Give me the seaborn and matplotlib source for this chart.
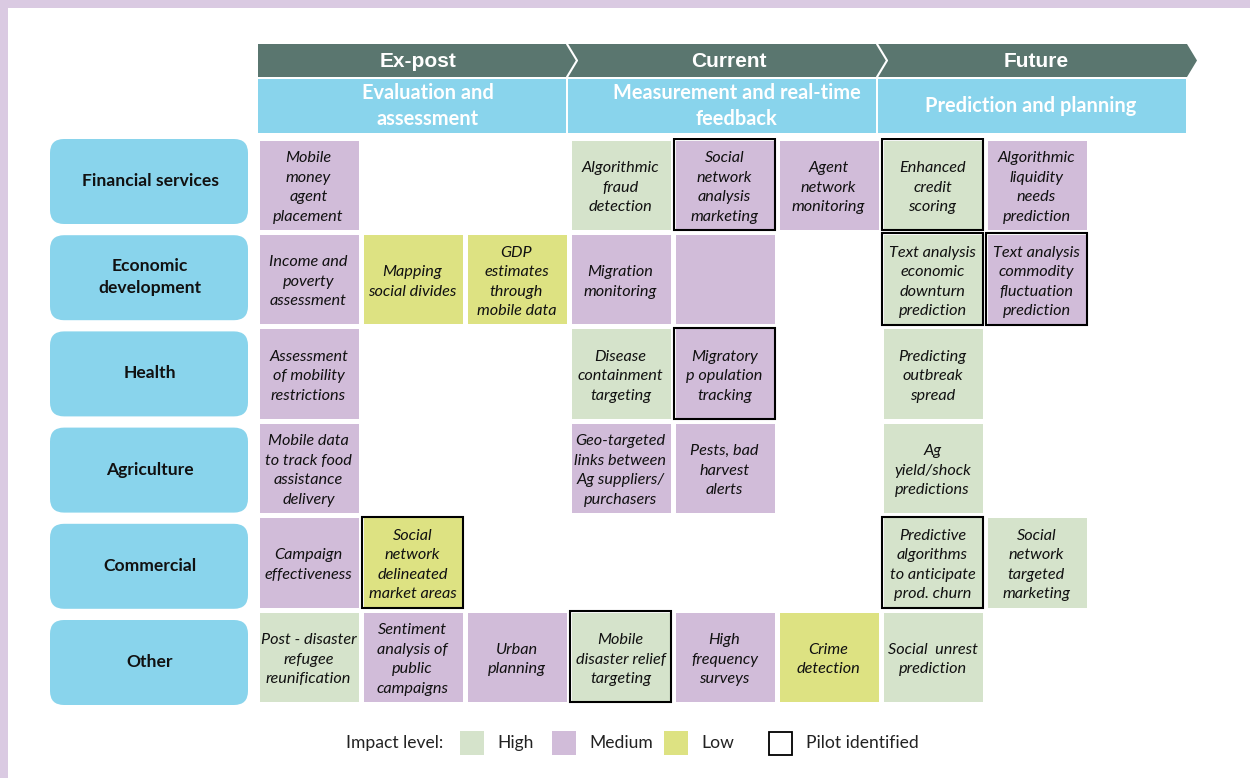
import numpy as np
import pandas as pd
import matplotlib
matplotlib.use("Agg")
import matplotlib.pyplot as plt
from matplotlib.colors import ListedColormap
from matplotlib.patches import Rectangle, FancyBboxPatch, Polygon
import seaborn as sns

# dati della matrice
sectors = ["Financial services", "Economic\ndevelopment", "Health",
           "Agriculture", "Commercial", "Other"]
periods = ["Ex-post", "Current", "Future"]
stages = ["Evaluation and\nassessment", "Measurement and real-time\nfeedback",
          "Prediction and planning"]
impact_levels = ["High", "Medium", "Low"]

cell_labels = [
    ["Mobile\nmoney\nagent\nplacement", None, None, "Algorithmic\nfraud\ndetection",
     "Social\nnetwork\nanalysis\nmarketing", "Agent\nnetwork\nmonitoring",
     "Enhanced\ncredit\nscoring", "Algorithmic\nliquidity\nneeds\nprediction"],
    ["Income and\npoverty\nassessment", "Mapping\nsocial divides",
     "GDP\nestimates\nthrough\nmobile data", "Migration\nmonitoring", "", None,
     "Text analysis\neconomic\ndownturn\nprediction",
     "Text analysis\ncommodity\nfluctuation\nprediction"],
    ["Assessment\nof mobility\nrestrictions", None, None, "Disease\ncontainment\ntargeting",
     "Migratory\np opulation\ntracking", None, "Predicting\noutbreak\nspread", None],
    ["Mobile data\nto track food\nassistance\ndelivery", None, None,
     "Geo-targeted\nlinks between\nAg suppliers/\npurchasers", "Pests, bad\nharvest\nalerts",
     None, "Ag\nyield/shock\npredictions", None],
    ["Campaign\neffectiveness", "Social\nnetwork\ndelineated\nmarket areas", None, None,
     None, None, "Predictive\nalgorithms\nto anticipate\nprod. churn",
     "Social\nnetwork\ntargeted\nmarketing"],
    ["Post - disaster\nrefugee\nreunification", "Sentiment\nanalysis of\npublic\ncampaigns",
     "Urban\nplanning", "Mobile\ndisaster relief\ntargeting", "High\nfrequency\nsurveys",
     "Crime\ndetection", "Social  unrest\nprediction", None],
]
cell_impact = [
    ["Medium", None, None, "High", "Medium", "Medium", "High", "Medium"],
    ["Medium", "Low", "Low", "Medium", "Medium", None, "High", "Medium"],
    ["Medium", None, None, "High", "Medium", None, "High", None],
    ["Medium", None, None, "Medium", "Medium", None, "High", None],
    ["Medium", "Low", None, None, None, None, "High", "High"],
    ["High", "Medium", "Medium", "High", "Medium", "Low", "High", None],
]
pilots = [(0, 4), (0, 6), (1, 6), (1, 7), (2, 4), (4, 1), (4, 6), (5, 3)]

# colori
col_high = "#D5E3CB"
col_med = "#D1BCD9"
col_low = "#DDE282"
col_dark = "#5A766F"
col_blue = "#89D4EC"
col_frame = "#DACAE2"

sns.set_style("white")
plt.rcParams["font.family"] = ["Lato", "DejaVu Sans"]

W, H = 1250, 778
fig = plt.figure(figsize=(12.5, 7.78), dpi=100)

# asse di sfondo in pixel
ax = fig.add_axes([0, 0, 1, 1])
ax.set_xlim(0, W)
ax.set_ylim(H, 0)
ax.axis("off")

# cornice lilla
ax.add_patch(Rectangle((0, 0), 8, H, color=col_frame, lw=0))
ax.add_patch(Rectangle((0, 0), W, 8, color=col_frame, lw=0))

# banda scura con freccia
ax.add_patch(Polygon([(258, 44), (1187, 44), (1197, 60.5), (1187, 77), (258, 77)],
                     closed=True, color=col_dark, lw=0))
for xs in [567, 877]:
    ax.plot([xs, xs + 10, xs], [44, 60.5, 77], color="white", lw=1.5)
period_x = [418, 729, 1036]
for px, p in zip(period_x, periods):
    ax.text(px, 61, p, ha="center", va="center", color="white", fontsize=15,
            fontweight="bold", family="Liberation Sans")

# sottotitoli azzurri
stage_x = [(258, 566), (568, 876), (878, 1186)]
stage_tx = [428, 737, 1031]
for (x0, x1), tx, s in zip(stage_x, stage_tx, stages):
    ax.add_patch(Rectangle((x0, 79), x1 - x0, 54, color=col_blue, lw=0))
    ax.text(tx, 106, s, ha="center", va="center", color="white",
            fontsize=14.4, fontweight="bold", linespacing=1.4)

# etichette dei settori
for i, s in enumerate(sectors):
    top = 139 + 96.2 * i
    ax.add_patch(FancyBboxPatch((50, top), 198, 85,
                                boxstyle="round,pad=0,rounding_size=14",
                                color=col_blue, lw=0))
    ax.text(150, top + 42, s, ha="center", va="center", fontsize=12.6,
            fontweight="bold", color="#111111", linespacing=1.5)

# legenda
ax.text(346, 743, "Impact level:", ha="left", va="center", fontsize=12.6, color="#222222")
leg_x = [460, 552, 664]
for lx, lev, c in zip(leg_x, impact_levels, [col_high, col_med, col_low]):
    ax.add_patch(Rectangle((lx, 731), 24, 24, color=c, lw=0))
    ax.text(lx + 37, 743, lev, ha="left", va="center", fontsize=12.6, color="#222222")
ax.add_patch(Rectangle((769, 732), 23, 23, facecolor="white", edgecolor="black", lw=1.3))
ax.text(806, 743, "Pilot identified", ha="left", va="center", fontsize=12.6, color="#222222")

# matrice delle celle con heatmap
codes = {"High": 0, "Medium": 1, "Low": 2}
df = pd.DataFrame([[codes[v] if v is not None else np.nan for v in row] for row in cell_impact])
labels = np.array([[t if t is not None else "" for t in row] for row in cell_labels])

left, right = 256.5, 256.5 + 8 * 104
top, bottom = 137.5, 137.5 + 6 * 94.4
hax = fig.add_axes([left / W, 1 - bottom / H, (right - left) / W, (bottom - top) / H])
sns.heatmap(df, mask=df.isna(), cmap=ListedColormap([col_high, col_med, col_low]),
            vmin=-0.5, vmax=2.5, cbar=False, annot=labels, fmt="",
            annot_kws={"fontsize": 11.7, "style": "italic", "color": "#111111",
                       "linespacing": 1.5},
            linewidths=2.2, linecolor="white", xticklabels=False, yticklabels=False,
            ax=hax)
hax.patch.set_alpha(0)
# sposto un po' in basso il testo delle celle
for t in hax.texts:
    x, y = t.get_position()
    t.set_position((x, y + 0.03))
for r, c in pilots:
    hax.add_patch(Rectangle((c + 0.012, r + 0.016), 0.976, 0.968, fill=False,
                            edgecolor="black", lw=1.5, zorder=5))

fig.savefig("out.png", dpi=100)
